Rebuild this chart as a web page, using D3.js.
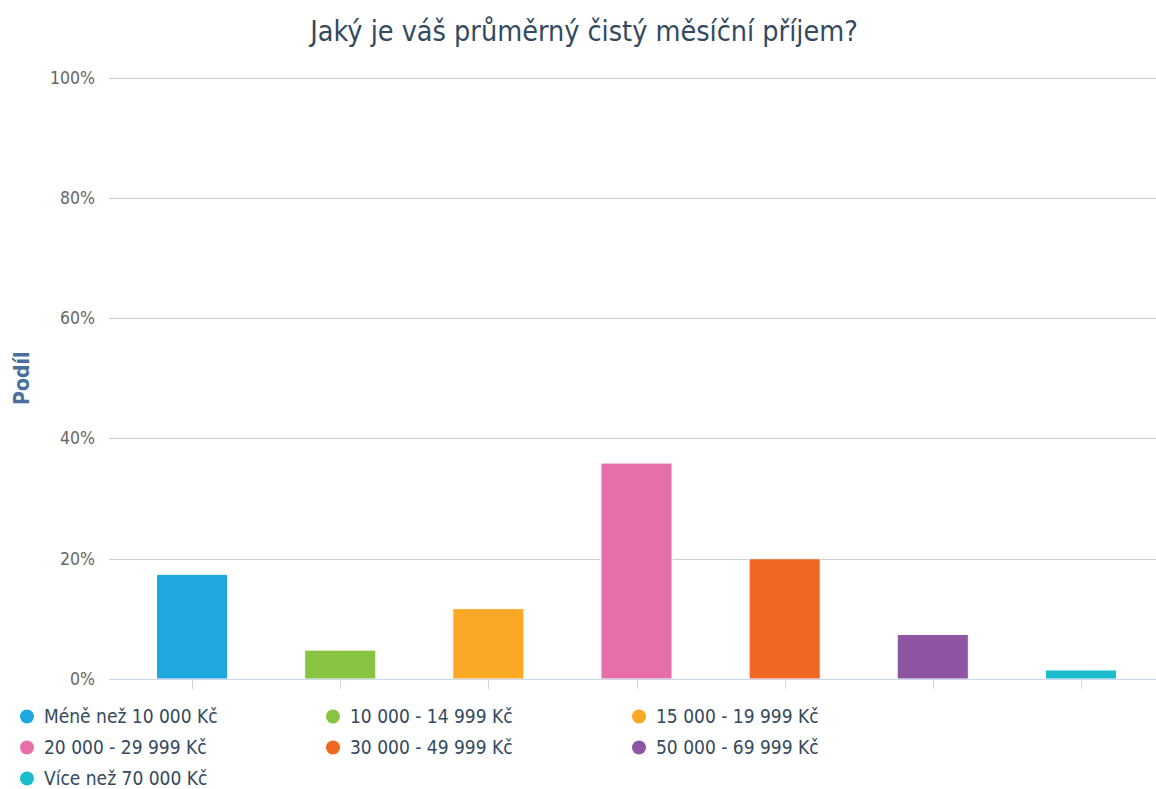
<!DOCTYPE html>
<html>
<head>
<meta charset="utf-8">
<script src="https://cdn.jsdelivr.net/npm/d3@7"></script>
<style>
  body { margin: 0; background: #fff; }
  svg { display: block; font-family: "DejaVu Sans Condensed", "DejaVu Sans", sans-serif; font-stretch: condensed; }
</style>
</head>
<body>
<div id="chart"></div>
<script>
// data
const categories = ['Méně než 10 000 Kč', '10 000 - 14 999 Kč', '15 000 - 19 999 Kč',
  '20 000 - 29 999 Kč', '30 000 - 49 999 Kč', '50 000 - 69 999 Kč', 'Více než 70 000 Kč']
const values = [17.4, 4.8, 11.7, 35.9, 20.0, 7.4, 1.5]
const colors = ['#1fa8e0', '#87c442', '#fba826', '#e76fa9', '#f06623', '#8f55a3', '#1bbecf']
const yTicks = [0, 20, 40, 60, 80, 100]

const width = 1156, height = 789
const svg = d3.select('#chart').append('svg')
  .attr('width', width).attr('height', height)

const x = d3.scaleBand().domain(categories).range([118, 1155]).paddingInner(0.52).paddingOuter(0.26)
const y = d3.scaleLinear().domain([0, 100]).range([679, 77.5])

// title
svg.append('text')
  .attr('x', 584).attr('y', 41)
  .attr('text-anchor', 'middle')
  .style('font-size', '28.5px').style('fill', '#34495e')
  .text('Jaký je váš průměrný čistý měsíční příjem?')

// grid + y labels
const grid = svg.append('g')
grid.selectAll('line').data(yTicks.filter(d => d > 0)).enter().append('line')
  .attr('x1', 109).attr('x2', 1156)
  .attr('y1', d => Math.round(y(d)) + 0.5).attr('y2', d => Math.round(y(d)) + 0.5)
  .attr('stroke', '#cccccc').attr('stroke-width', 1)

svg.append('g').selectAll('text').data(yTicks).enter().append('text')
  .attr('x', 95).attr('y', d => y(d) + 6)
  .attr('text-anchor', 'end')
  .style('font-size', '17.5px').style('fill', '#666666')
  .text(d => d + '%')

svg.append('text')
  .attr('transform', 'translate(29,' + y(50) + ') rotate(-90)')
  .attr('text-anchor', 'middle')
  .style('font-size', '21px').style('font-weight', 'bold').style('fill', '#4a6f9c')
  .text('Podíl')

// bars
svg.append('g').selectAll('rect').data(values).enter().append('rect')
  .attr('x', (d, i) => x(categories[i]))
  .attr('width', x.bandwidth())
  .attr('y', d => y(d))
  .attr('height', d => y(0) - y(d))
  .attr('fill', (d, i) => colors[i])
  .attr('stroke', '#ffffff').attr('stroke-width', 1)

// x axis line and ticks
svg.append('line')
  .attr('x1', 109).attr('x2', 1156)
  .attr('y1', 679.5).attr('y2', 679.5)
  .attr('stroke', '#ccd6eb').attr('stroke-width', 1)
svg.append('g').selectAll('line').data(categories).enter().append('line')
  .attr('x1', d => Math.round(x(d) + x.bandwidth() / 2) + 0.5)
  .attr('x2', d => Math.round(x(d) + x.bandwidth() / 2) + 0.5)
  .attr('y1', 679).attr('y2', 689)
  .attr('stroke', '#ccd6eb').attr('stroke-width', 1)

// legend, three columns
const legend = svg.append('g').selectAll('g').data(categories).enter().append('g')
  .attr('transform', (d, i) => 'translate(' + (27 + (i % 3) * 306) + ',' + (716.5 + Math.floor(i / 3) * 31) + ')')
legend.append('circle').attr('r', 7).attr('fill', (d, i) => colors[i])
legend.append('text')
  .attr('x', 17).attr('y', 6.5)
  .style('font-size', '19px').style('fill', '#34495e')
  .text(d => d)
</script>
</body>
</html>
